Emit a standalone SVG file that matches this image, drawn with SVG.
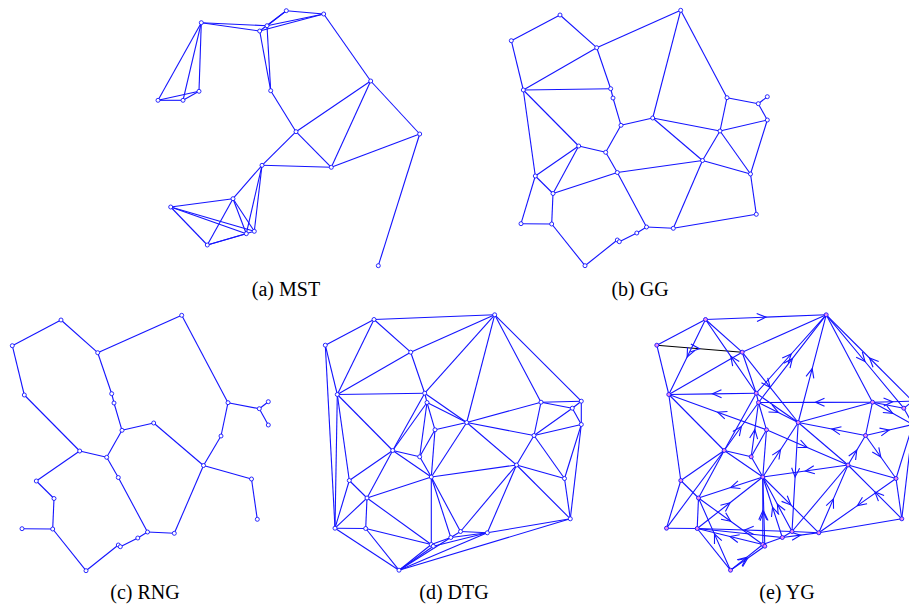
<svg xmlns="http://www.w3.org/2000/svg" width="909" height="608" viewBox="0 0 909 608">
<style>
.e line,.e path{stroke:#1414ff;stroke-width:1.1;fill:none}
.e path.ar{marker-mid:url(#chev)}
.e .k{stroke:#000}
.n circle{fill:#fff;stroke:#1414ff;stroke-width:0.9}
.ny circle{fill:#f08cf0;stroke:#1414ff;stroke-width:0.9}
text{font-family:"Liberation Serif","Times New Roman",serif;font-size:20px;text-anchor:middle;fill:#000}
</style>
<defs>
<marker id="chev" viewBox="-12 -6 14 12" markerWidth="14" markerHeight="12" refX="0" refY="0" orient="auto" markerUnits="userSpaceOnUse"><path d="M-9,-4 L0,0 L-9,4" fill="none" stroke="#1414ff" stroke-width="1.1"/></marker>
</defs>
<rect width="909" height="608" fill="#fff"/>

<!-- (a) MST -->
<g id="panel-a">
<g id="a-edges" class="e">
<line x1="201.3" y1="22.7" x2="158" y2="100.3"/>
<line x1="201.3" y1="22.7" x2="183" y2="100.3"/>
<line x1="201.3" y1="22.7" x2="199" y2="91.3"/>
<line x1="158" y1="100.3" x2="183" y2="100.3"/>
<line x1="158" y1="100.3" x2="199" y2="91.3"/>
<line x1="183" y1="100.3" x2="199" y2="91.3"/>
<line x1="201.3" y1="22.7" x2="259.7" y2="31"/>
<line x1="201.3" y1="22.7" x2="267" y2="25.7"/>
<line x1="286.3" y1="10.7" x2="267" y2="25.7"/>
<line x1="286.3" y1="10.7" x2="259.7" y2="31"/>
<line x1="286.3" y1="10.7" x2="323.7" y2="14"/>
<line x1="323.7" y1="14" x2="267" y2="25.7"/>
<line x1="323.7" y1="14" x2="259.7" y2="31"/>
<line x1="267" y1="25.7" x2="270.7" y2="90.7"/>
<line x1="259.7" y1="31" x2="270.7" y2="90.7"/>
<line x1="270.7" y1="90.7" x2="296" y2="131.7"/>
<line x1="323.7" y1="14" x2="370.7" y2="81"/>
<line x1="370.7" y1="81" x2="296" y2="131.7"/>
<line x1="370.7" y1="81" x2="331.3" y2="167.3"/>
<line x1="370.7" y1="81" x2="419.7" y2="134"/>
<line x1="296" y1="131.7" x2="331.3" y2="167.3"/>
<line x1="296" y1="131.7" x2="262" y2="165.3"/>
<line x1="262" y1="165.3" x2="331.3" y2="167.3"/>
<line x1="331.3" y1="167.3" x2="419.7" y2="134"/>
<line x1="419.7" y1="134" x2="378.3" y2="265.7"/>
<line x1="262" y1="165.3" x2="233" y2="198.7"/>
<line x1="262" y1="165.3" x2="246.3" y2="233.7"/>
<line x1="262" y1="165.3" x2="254.3" y2="231.3"/>
<line x1="233" y1="198.7" x2="170.7" y2="207"/>
<line x1="233" y1="198.7" x2="207.3" y2="245"/>
<line x1="233" y1="198.7" x2="246.3" y2="233.7"/>
<line x1="233" y1="198.7" x2="254.3" y2="231.3"/>
<line x1="170.7" y1="207" x2="207.3" y2="245"/>
<line x1="170.7" y1="207" x2="246.3" y2="233.7"/>
<line x1="170.7" y1="207" x2="254.3" y2="231.3"/>
<line x1="207.3" y1="245" x2="246.3" y2="233.7"/>
<line x1="207.3" y1="245" x2="254.3" y2="231.3"/>
</g>
<g class="n">
<g id="a1"><circle cx="201.3" cy="22.7" r="2"/></g>
<g id="a2"><circle cx="286.3" cy="10.7" r="2"/></g>
<g id="a3"><circle cx="323.7" cy="14" r="2"/></g>
<g id="a4"><circle cx="267" cy="25.7" r="2"/></g>
<g id="a5"><circle cx="259.7" cy="31" r="2"/></g>
<g id="a6"><circle cx="199" cy="91.3" r="2"/></g>
<g id="a7"><circle cx="183" cy="100.3" r="2"/></g>
<g id="a8"><circle cx="158" cy="100.3" r="2"/></g>
<g id="a9"><circle cx="270.7" cy="90.7" r="2"/></g>
<g id="a10"><circle cx="370.7" cy="81" r="2"/></g>
<g id="a11"><circle cx="296" cy="131.7" r="2"/></g>
<g id="a12"><circle cx="419.7" cy="134" r="2"/></g>
<g id="a13"><circle cx="331.3" cy="167.3" r="2"/></g>
<g id="a14"><circle cx="262" cy="165.3" r="2"/></g>
<g id="a15"><circle cx="233" cy="198.7" r="2"/></g>
<g id="a16"><circle cx="170.7" cy="207" r="2"/></g>
<g id="a17"><circle cx="207.3" cy="245" r="2"/></g>
<g id="a18"><circle cx="246.3" cy="233.7" r="2"/></g>
<g id="a19"><circle cx="254.3" cy="231.3" r="2"/></g>
<g id="a20"><circle cx="378.3" cy="265.7" r="2"/></g>
</g>
<text x="286" y="296">(a) MST</text>
</g>

<!-- (b) GG -->
<g id="panel-b">
<g id="b-edges" class="e">
<line x1="560" y1="15" x2="511.3" y2="40.7"/>
<line x1="560" y1="15" x2="596.7" y2="47.7"/>
<line x1="596.7" y1="47.7" x2="680.7" y2="10.3"/>
<line x1="511.3" y1="40.7" x2="523.3" y2="90"/>
<line x1="523.3" y1="90" x2="596.7" y2="47.7"/>
<line x1="523.3" y1="90" x2="610.7" y2="88.7"/>
<line x1="596.7" y1="47.7" x2="610.7" y2="88.7"/>
<line x1="610.7" y1="88.7" x2="613" y2="98"/>
<line x1="613" y1="98" x2="621" y2="125.3"/>
<line x1="621" y1="125.3" x2="652.7" y2="118"/>
<line x1="652.7" y1="118" x2="680.7" y2="10.3"/>
<line x1="680.7" y1="10.3" x2="727" y2="97.7"/>
<line x1="727" y1="97.7" x2="758.3" y2="103.7"/>
<line x1="758.3" y1="103.7" x2="767.3" y2="96.7"/>
<line x1="758.3" y1="103.7" x2="767.3" y2="120"/>
<line x1="727" y1="97.7" x2="720" y2="131"/>
<line x1="652.7" y1="118" x2="720" y2="131"/>
<line x1="720" y1="131" x2="767.3" y2="120"/>
<line x1="767.3" y1="120" x2="750.5" y2="174"/>
<line x1="750.5" y1="174" x2="756.3" y2="214.3"/>
<line x1="720" y1="131" x2="702.5" y2="160.5"/>
<line x1="720" y1="131" x2="750.5" y2="174"/>
<line x1="702.5" y1="160.5" x2="750.5" y2="174"/>
<line x1="652.7" y1="118" x2="702.5" y2="160.5"/>
<line x1="621" y1="125.3" x2="605.7" y2="152.3"/>
<line x1="578.7" y1="146" x2="605.7" y2="152.3"/>
<line x1="578.7" y1="146" x2="535.3" y2="176"/>
<line x1="578.7" y1="146" x2="553" y2="193.5"/>
<line x1="605.7" y1="152.3" x2="617.3" y2="172.5"/>
<line x1="535.3" y1="176" x2="553" y2="193.5"/>
<line x1="553" y1="193.5" x2="617.3" y2="172.5"/>
<line x1="617.3" y1="172.5" x2="702.5" y2="160.5"/>
<line x1="617.3" y1="172.5" x2="646.5" y2="227"/>
<line x1="702.5" y1="160.5" x2="673.3" y2="228.3"/>
<line x1="646.5" y1="227" x2="673.3" y2="228.3"/>
<line x1="673.3" y1="228.3" x2="756.3" y2="214.3"/>
<line x1="523.3" y1="90" x2="578.7" y2="146"/>
<line x1="523.3" y1="90" x2="535.3" y2="176"/>
<line x1="535.3" y1="176" x2="521" y2="223.7"/>
<line x1="521" y1="223.7" x2="551.7" y2="224"/>
<line x1="551.7" y1="224" x2="553" y2="193.5"/>
<line x1="551.7" y1="224" x2="585" y2="265.7"/>
<line x1="585" y1="265.7" x2="617.3" y2="240"/>
<line x1="617.3" y1="240" x2="619.3" y2="241.7"/>
<line x1="619.3" y1="241.7" x2="636.8" y2="233"/>
<line x1="636.8" y1="233" x2="646.5" y2="227"/>
</g>
<g class="n">
<g id="b1"><circle cx="560" cy="15" r="2"/></g>
<g id="b2"><circle cx="511.3" cy="40.7" r="2"/></g>
<g id="b3"><circle cx="596.7" cy="47.7" r="2"/></g>
<g id="b4"><circle cx="680.7" cy="10.3" r="2"/></g>
<g id="b5"><circle cx="523.3" cy="90" r="2"/></g>
<g id="b6"><circle cx="610.7" cy="88.7" r="2"/></g>
<g id="b7"><circle cx="613" cy="98" r="2"/></g>
<g id="b8"><circle cx="621" cy="125.3" r="2"/></g>
<g id="b9"><circle cx="652.7" cy="118" r="2"/></g>
<g id="b10"><circle cx="727" cy="97.7" r="2"/></g>
<g id="b11"><circle cx="758.3" cy="103.7" r="2"/></g>
<g id="b12"><circle cx="767.3" cy="96.7" r="2"/></g>
<g id="b13"><circle cx="767.3" cy="120" r="2"/></g>
<g id="b14"><circle cx="720" cy="131" r="2"/></g>
<g id="b15"><circle cx="578.7" cy="146" r="2"/></g>
<g id="b16"><circle cx="605.7" cy="152.3" r="2"/></g>
<g id="b17"><circle cx="535.3" cy="176" r="2"/></g>
<g id="b18"><circle cx="553" cy="193.5" r="2"/></g>
<g id="b19"><circle cx="617.3" cy="172.5" r="2"/></g>
<g id="b20"><circle cx="702.5" cy="160.5" r="2"/></g>
<g id="b21"><circle cx="750.5" cy="174" r="2"/></g>
<g id="b22"><circle cx="521" cy="223.7" r="2"/></g>
<g id="b23"><circle cx="551.7" cy="224" r="2"/></g>
<g id="b24"><circle cx="646.5" cy="227" r="2"/></g>
<g id="b25"><circle cx="673.3" cy="228.3" r="2"/></g>
<g id="b26"><circle cx="756.3" cy="214.3" r="2"/></g>
<g id="b27"><circle cx="636.8" cy="233" r="2"/></g>
<g id="b28"><circle cx="617.3" cy="240" r="2"/></g>
<g id="b29"><circle cx="619.3" cy="241.7" r="2"/></g>
<g id="b30"><circle cx="585" cy="265.7" r="2"/></g>
</g>
<text x="640" y="296">(b) GG</text>
</g>

<!-- (c) RNG -->
<g id="panel-c">
<g transform="translate(-499,305)">
<g id="c-edges" class="e">
<line x1="560" y1="15" x2="511.3" y2="40.7"/>
<line x1="560" y1="15" x2="596.7" y2="47.7"/>
<line x1="596.7" y1="47.7" x2="680.7" y2="10.3"/>
<line x1="511.3" y1="40.7" x2="523.3" y2="90"/>
<line x1="680.7" y1="10.3" x2="727" y2="97.7"/>
<line x1="727" y1="97.7" x2="758.3" y2="103.7"/>
<line x1="758.3" y1="103.7" x2="767.3" y2="96.7"/>
<line x1="758.3" y1="103.7" x2="767.3" y2="120"/>
<line x1="727" y1="97.7" x2="720" y2="131"/>
<line x1="596.7" y1="47.7" x2="610.7" y2="88.7"/>
<line x1="610.7" y1="88.7" x2="613" y2="98"/>
<line x1="613" y1="98" x2="621" y2="125.3"/>
<line x1="621" y1="125.3" x2="652.7" y2="118"/>
<line x1="652.7" y1="118" x2="702.5" y2="160.5"/>
<line x1="621" y1="125.3" x2="605.7" y2="152.3"/>
<line x1="523.3" y1="90" x2="578.7" y2="146"/>
<line x1="578.7" y1="146" x2="605.7" y2="152.3"/>
<line x1="578.7" y1="146" x2="535.3" y2="176"/>
<line x1="535.3" y1="176" x2="553" y2="193.5"/>
<line x1="553" y1="193.5" x2="551.7" y2="224"/>
<line x1="551.7" y1="224" x2="521" y2="223.7"/>
<line x1="551.7" y1="224" x2="585" y2="265.7"/>
<line x1="585" y1="265.7" x2="617.3" y2="240"/>
<line x1="617.3" y1="240" x2="619.3" y2="241.7"/>
<line x1="619.3" y1="241.7" x2="636.8" y2="233"/>
<line x1="636.8" y1="233" x2="646.5" y2="227"/>
<line x1="605.7" y1="152.3" x2="617.3" y2="172.5"/>
<line x1="617.3" y1="172.5" x2="646.5" y2="227"/>
<line x1="646.5" y1="227" x2="673.3" y2="228.3"/>
<line x1="673.3" y1="228.3" x2="702.5" y2="160.5"/>
<line x1="720" y1="131" x2="702.5" y2="160.5"/>
<line x1="702.5" y1="160.5" x2="750.5" y2="174"/>
<line x1="750.5" y1="174" x2="756.3" y2="214.3"/>
</g>
<g class="n">
<g id="c1"><circle cx="560" cy="15" r="2"/></g>
<g id="c2"><circle cx="511.3" cy="40.7" r="2"/></g>
<g id="c3"><circle cx="596.7" cy="47.7" r="2"/></g>
<g id="c4"><circle cx="680.7" cy="10.3" r="2"/></g>
<g id="c5"><circle cx="523.3" cy="90" r="2"/></g>
<g id="c6"><circle cx="610.7" cy="88.7" r="2"/></g>
<g id="c7"><circle cx="613" cy="98" r="2"/></g>
<g id="c8"><circle cx="621" cy="125.3" r="2"/></g>
<g id="c9"><circle cx="652.7" cy="118" r="2"/></g>
<g id="c10"><circle cx="727" cy="97.7" r="2"/></g>
<g id="c11"><circle cx="758.3" cy="103.7" r="2"/></g>
<g id="c12"><circle cx="767.3" cy="96.7" r="2"/></g>
<g id="c13"><circle cx="767.3" cy="120" r="2"/></g>
<g id="c14"><circle cx="720" cy="131" r="2"/></g>
<g id="c15"><circle cx="578.7" cy="146" r="2"/></g>
<g id="c16"><circle cx="605.7" cy="152.3" r="2"/></g>
<g id="c17"><circle cx="535.3" cy="176" r="2"/></g>
<g id="c18"><circle cx="553" cy="193.5" r="2"/></g>
<g id="c19"><circle cx="617.3" cy="172.5" r="2"/></g>
<g id="c20"><circle cx="702.5" cy="160.5" r="2"/></g>
<g id="c21"><circle cx="750.5" cy="174" r="2"/></g>
<g id="c22"><circle cx="521" cy="223.7" r="2"/></g>
<g id="c23"><circle cx="551.7" cy="224" r="2"/></g>
<g id="c24"><circle cx="646.5" cy="227" r="2"/></g>
<g id="c25"><circle cx="673.3" cy="228.3" r="2"/></g>
<g id="c26"><circle cx="756.3" cy="214.3" r="2"/></g>
<g id="c27"><circle cx="636.8" cy="233" r="2"/></g>
<g id="c28"><circle cx="617.3" cy="240" r="2"/></g>
<g id="c29"><circle cx="619.3" cy="241.7" r="2"/></g>
<g id="c30"><circle cx="585" cy="265.7" r="2"/></g>
</g>
</g>
<text x="145" y="599">(c) RNG</text>
</g>

<!-- (d) DTG -->
<g id="panel-d">
<g transform="translate(-186,304.5)">
<g id="d-edges" class="e">
<line x1="560" y1="15" x2="511.3" y2="40.7"/>
<line x1="560" y1="15" x2="680.7" y2="10.3"/>
<line x1="560" y1="15" x2="596.7" y2="47.7"/>
<line x1="560" y1="15" x2="523.3" y2="90"/>
<line x1="596.7" y1="47.7" x2="680.7" y2="10.3"/>
<line x1="596.7" y1="47.7" x2="523.3" y2="90"/>
<line x1="596.7" y1="47.7" x2="610.7" y2="88.7"/>
<line x1="523.3" y1="90" x2="610.7" y2="88.7"/>
<line x1="680.7" y1="10.3" x2="610.7" y2="88.7"/>
<line x1="680.7" y1="10.3" x2="652.7" y2="118"/>
<line x1="680.7" y1="10.3" x2="727" y2="97.7"/>
<line x1="680.7" y1="10.3" x2="767.3" y2="96.7"/>
<line x1="511.3" y1="40.7" x2="523.3" y2="90"/>
<line x1="511.3" y1="40.7" x2="521" y2="223.7"/>
<line x1="523.3" y1="90" x2="521" y2="223.7"/>
<line x1="523.3" y1="90" x2="535.3" y2="176"/>
<line x1="523.3" y1="90" x2="578.7" y2="146"/>
<line x1="610.7" y1="88.7" x2="613" y2="98"/>
<line x1="610.7" y1="88.7" x2="652.7" y2="118"/>
<line x1="613" y1="98" x2="652.7" y2="118"/>
<line x1="613" y1="98" x2="621" y2="125.3"/>
<line x1="610.7" y1="88.7" x2="578.7" y2="146"/>
<line x1="613" y1="98" x2="578.7" y2="146"/>
<line x1="613" y1="98" x2="605.7" y2="152.3"/>
<line x1="621" y1="125.3" x2="605.7" y2="152.3"/>
<line x1="621" y1="125.3" x2="617.3" y2="172.5"/>
<line x1="621" y1="125.3" x2="652.7" y2="118"/>
<line x1="652.7" y1="118" x2="727" y2="97.7"/>
<line x1="652.7" y1="118" x2="720" y2="131"/>
<line x1="727" y1="97.7" x2="767.3" y2="96.7"/>
<line x1="727" y1="97.7" x2="758.3" y2="103.7"/>
<line x1="727" y1="97.7" x2="720" y2="131"/>
<line x1="758.3" y1="103.7" x2="767.3" y2="96.7"/>
<line x1="758.3" y1="103.7" x2="767.3" y2="120"/>
<line x1="758.3" y1="103.7" x2="720" y2="131"/>
<line x1="767.3" y1="96.7" x2="767.3" y2="120"/>
<line x1="767.3" y1="120" x2="720" y2="131"/>
<line x1="767.3" y1="120" x2="750.5" y2="174"/>
<line x1="767.3" y1="120" x2="756.3" y2="214.3"/>
<line x1="652.7" y1="118" x2="617.3" y2="172.5"/>
<line x1="652.7" y1="118" x2="702.5" y2="160.5"/>
<line x1="720" y1="131" x2="702.5" y2="160.5"/>
<line x1="720" y1="131" x2="750.5" y2="174"/>
<line x1="702.5" y1="160.5" x2="750.5" y2="174"/>
<line x1="702.5" y1="160.5" x2="756.3" y2="214.3"/>
<line x1="750.5" y1="174" x2="756.3" y2="214.3"/>
<line x1="617.3" y1="172.5" x2="702.5" y2="160.5"/>
<line x1="702.5" y1="160.5" x2="646.5" y2="227"/>
<line x1="702.5" y1="160.5" x2="673.3" y2="228.3"/>
<line x1="673.3" y1="228.3" x2="756.3" y2="214.3"/>
<line x1="617.3" y1="172.5" x2="646.5" y2="227"/>
<line x1="617.3" y1="172.5" x2="636.8" y2="233"/>
<line x1="617.3" y1="172.5" x2="617.3" y2="240"/>
<line x1="578.7" y1="146" x2="617.3" y2="172.5"/>
<line x1="605.7" y1="152.3" x2="617.3" y2="172.5"/>
<line x1="578.7" y1="146" x2="605.7" y2="152.3"/>
<line x1="578.7" y1="146" x2="535.3" y2="176"/>
<line x1="578.7" y1="146" x2="553" y2="193.5"/>
<line x1="535.3" y1="176" x2="553" y2="193.5"/>
<line x1="553" y1="193.5" x2="617.3" y2="172.5"/>
<line x1="553" y1="193.5" x2="551.7" y2="224"/>
<line x1="535.3" y1="176" x2="521" y2="223.7"/>
<line x1="553" y1="193.5" x2="521" y2="223.7"/>
<line x1="521" y1="223.7" x2="551.7" y2="224"/>
<line x1="553" y1="193.5" x2="617.3" y2="240"/>
<line x1="551.7" y1="224" x2="617.3" y2="240"/>
<line x1="521" y1="223.7" x2="585" y2="265.7"/>
<line x1="551.7" y1="224" x2="585" y2="265.7"/>
<line x1="585" y1="265.7" x2="617.3" y2="240"/>
<line x1="585" y1="265.7" x2="619.3" y2="241.7"/>
<line x1="585" y1="265.7" x2="636.8" y2="233"/>
<line x1="585" y1="265.7" x2="673.3" y2="228.3"/>
<line x1="585" y1="265.7" x2="756.3" y2="214.3"/>
<line x1="617.3" y1="240" x2="636.8" y2="233"/>
<line x1="619.3" y1="241.7" x2="673.3" y2="228.3"/>
<line x1="636.8" y1="233" x2="646.5" y2="227"/>
<line x1="636.8" y1="233" x2="673.3" y2="228.3"/>
<line x1="646.5" y1="227" x2="673.3" y2="228.3"/>
<line x1="617.3" y1="240" x2="619.3" y2="241.7"/>
</g>
<g class="n">
<g id="d1"><circle cx="560" cy="15" r="2"/></g>
<g id="d2"><circle cx="511.3" cy="40.7" r="2"/></g>
<g id="d3"><circle cx="596.7" cy="47.7" r="2"/></g>
<g id="d4"><circle cx="680.7" cy="10.3" r="2"/></g>
<g id="d5"><circle cx="523.3" cy="90" r="2"/></g>
<g id="d6"><circle cx="610.7" cy="88.7" r="2"/></g>
<g id="d7"><circle cx="613" cy="98" r="2"/></g>
<g id="d8"><circle cx="621" cy="125.3" r="2"/></g>
<g id="d9"><circle cx="652.7" cy="118" r="2"/></g>
<g id="d10"><circle cx="727" cy="97.7" r="2"/></g>
<g id="d11"><circle cx="758.3" cy="103.7" r="2"/></g>
<g id="d12"><circle cx="767.3" cy="96.7" r="2"/></g>
<g id="d13"><circle cx="767.3" cy="120" r="2"/></g>
<g id="d14"><circle cx="720" cy="131" r="2"/></g>
<g id="d15"><circle cx="578.7" cy="146" r="2"/></g>
<g id="d16"><circle cx="605.7" cy="152.3" r="2"/></g>
<g id="d17"><circle cx="535.3" cy="176" r="2"/></g>
<g id="d18"><circle cx="553" cy="193.5" r="2"/></g>
<g id="d19"><circle cx="617.3" cy="172.5" r="2"/></g>
<g id="d20"><circle cx="702.5" cy="160.5" r="2"/></g>
<g id="d21"><circle cx="750.5" cy="174" r="2"/></g>
<g id="d22"><circle cx="521" cy="223.7" r="2"/></g>
<g id="d23"><circle cx="551.7" cy="224" r="2"/></g>
<g id="d24"><circle cx="646.5" cy="227" r="2"/></g>
<g id="d25"><circle cx="673.3" cy="228.3" r="2"/></g>
<g id="d26"><circle cx="756.3" cy="214.3" r="2"/></g>
<g id="d27"><circle cx="636.8" cy="233" r="2"/></g>
<g id="d28"><circle cx="617.3" cy="240" r="2"/></g>
<g id="d29"><circle cx="619.3" cy="241.7" r="2"/></g>
<g id="d30"><circle cx="585" cy="265.7" r="2"/></g>
</g>
</g>
<text x="454" y="599">(d) DTG</text>
</g>

<!-- (e) YG -->
<g id="panel-e">
<g transform="translate(145.5,304.5)">
<g id="e-edges" class="e">
<line x1="560" y1="15" x2="511.3" y2="40.7"/>
<line x1="560" y1="15" x2="596.7" y2="47.7"/>
<line x1="596.7" y1="47.7" x2="680.7" y2="10.3"/>
<line x1="596.7" y1="47.7" x2="523.3" y2="90"/>
<line x1="511.3" y1="40.7" x2="523.3" y2="90"/>
<line x1="596.7" y1="47.7" x2="610.7" y2="88.7"/>
<line x1="610.7" y1="88.7" x2="613" y2="98"/>
<line x1="680.7" y1="10.3" x2="727" y2="97.7"/>
<line x1="652.7" y1="118" x2="727" y2="97.7"/>
<line x1="727" y1="97.7" x2="720" y2="131"/>
<line x1="727" y1="97.7" x2="758.3" y2="103.7"/>
<line x1="758.3" y1="103.7" x2="767.3" y2="96.7"/>
<line x1="758.3" y1="103.7" x2="767.3" y2="120"/>
<line x1="613" y1="98" x2="621" y2="125.3"/>
<line x1="610.7" y1="88.7" x2="652.7" y2="118"/>
<line x1="610.7" y1="88.7" x2="578.7" y2="146"/>
<line x1="523.3" y1="90" x2="578.7" y2="146"/>
<line x1="523.3" y1="90" x2="535.3" y2="176"/>
<line x1="621" y1="125.3" x2="605.7" y2="152.3"/>
<line x1="578.7" y1="146" x2="605.7" y2="152.3"/>
<line x1="605.7" y1="152.3" x2="617.3" y2="172.5"/>
<line x1="578.7" y1="146" x2="617.3" y2="172.5"/>
<line x1="621" y1="125.3" x2="617.3" y2="172.5"/>
<line x1="652.7" y1="118" x2="702.5" y2="160.5"/>
<line x1="702.5" y1="160.5" x2="750.5" y2="174"/>
<line x1="702.5" y1="160.5" x2="646.5" y2="227"/>
<line x1="750.5" y1="174" x2="756.3" y2="214.3"/>
<line x1="673.3" y1="228.3" x2="756.3" y2="214.3"/>
<line x1="636.8" y1="233" x2="646.5" y2="227"/>
<line x1="636.8" y1="233" x2="617.3" y2="240"/>
<line x1="617.3" y1="240" x2="619.3" y2="241.7"/>
<line x1="521" y1="223.7" x2="551.7" y2="224"/>
<line x1="521" y1="223.7" x2="535.3" y2="176"/>
<line x1="535.3" y1="176" x2="553" y2="193.5"/>
<line x1="553" y1="193.5" x2="551.7" y2="224"/>
<line x1="535.3" y1="176" x2="578.7" y2="146"/>
<line x1="553" y1="193.5" x2="578.7" y2="146"/>
<line x1="521" y1="223.7" x2="578.7" y2="146"/>
<line x1="551.7" y1="224" x2="636.8" y2="233"/>
<line x1="551.7" y1="224" x2="585" y2="265.7"/>
<line x1="750.5" y1="174" x2="767.3" y2="120"/>
<line x1="756.3" y1="214.3" x2="767.3" y2="120"/>
<line x1="646.5" y1="227" x2="673.3" y2="228.3"/>
<line class="k" x1="511.3" y1="40.7" x2="596.7" y2="47.7"/>
<path class="ar" d="M560,15 L620.35,12.65 L680.7,10.3"/>
<path class="ar" d="M511.3,40.7 L554,44.2 L596.7,47.7" stroke-opacity="0"/>
<path class="ar" d="M560,15 L541.65,52.5 L523.3,90"/>
<path class="ar" d="M610.7,88.7 L585.35,51.85 L560,15"/>
<path class="ar" d="M596.7,47.7 L624.7,82.85 L652.7,118"/>
<path class="ar" d="M610.7,88.7 L645.7,49.5 L680.7,10.3"/>
<path class="ar" d="M613,98 L646.85,54.15 L680.7,10.3"/>
<path class="ar" d="M652.7,118 L666.7,64.15 L680.7,10.3"/>
<path class="ar" d="M680.7,10.3 L719.5,57 L758.3,103.7"/>
<path class="ar" d="M767.3,96.7 L724,53.5 L680.7,10.3"/>
<path class="ar" d="M610.7,88.7 L567,89.35 L523.3,90"/>
<path class="ar" d="M621,125.3 L572.15,107.65 L523.3,90"/>
<path class="ar" d="M727,97.7 L670,97.85 L613,98"/>
<path class="ar" d="M727,97.7 L747.15,97.2 L767.3,96.7"/>
<path class="ar" d="M720,131 L686.35,124.5 L652.7,118"/>
<path class="ar" d="M727,97.7 L747.15,108.85 L767.3,120"/>
<path class="ar" d="M720,131 L743.65,125.5 L767.3,120"/>
<path class="ar" d="M605.7,152.3 L609.35,125.15 L613,98"/>
<path class="ar" d="M578.7,146 L595.85,122 L613,98"/>
<path class="ar" d="M652.7,118 L649.6,172.5 L646.5,227"/>
<path class="ar" d="M621,125.3 L661.75,142.9 L702.5,160.5"/>
<path class="ar" d="M702.5,160.5 L711.25,145.75 L720,131"/>
<path class="ar" d="M720,131 L735.25,152.5 L750.5,174"/>
<path class="ar" d="M756.3,214.3 L729.4,187.4 L702.5,160.5"/>
<path class="ar" d="M750.5,174 L711.9,201.15 L673.3,228.3"/>
<path class="ar" d="M673.3,228.3 L687.9,194.4 L702.5,160.5"/>
<path class="ar" d="M702.5,160.5 L659.9,166.5 L617.3,172.5"/>
<path class="ar" d="M617.3,172.5 L635,145.25 L652.7,118"/>
<path class="ar" d="M617.3,172.5 L585.15,183 L553,193.5"/>
<path class="ar" d="M551.7,224 L584.5,198.25 L617.3,172.5"/>
<path class="ar" d="M553,193.5 L585.15,216.75 L617.3,240"/>
<path class="ar" d="M617.3,240 L617.3,206.25 L617.3,172.5"/>
<path class="ar" d="M619.3,241.7 L618.3,207.1 L617.3,172.5"/>
<path class="ar" d="M636.8,233 L627.05,202.75 L617.3,172.5"/>
<path class="ar" d="M646.5,227 L631.9,199.75 L617.3,172.5"/>
<path class="ar" d="M617.3,172.5 L645.3,200.4 L673.3,228.3"/>
<path class="ar" d="M646.5,227 L599.1,225.5 L551.7,224"/>
<path class="ar" d="M617.3,240 L584.5,232 L551.7,224"/>
<path class="ar" d="M585,265.7 L569,229.6 L553,193.5"/>
<path class="ar" d="M585,265.7 L601.15,252.85 L617.3,240"/>
<path class="ar" d="M585,265.7 L602.15,253.7 L619.3,241.7"/>
<path class="ar" d="M613,98 L632.85,108 L652.7,118"/>
<path class="ar" d="M636.8,233 L655.05,230.65 L673.3,228.3"/>
</g>
<g class="ny">
<g id="e1"><circle cx="560" cy="15" r="2"/></g>
<g id="e2"><circle cx="511.3" cy="40.7" r="2"/></g>
<g id="e3"><circle cx="596.7" cy="47.7" r="2"/></g>
<g id="e4"><circle cx="680.7" cy="10.3" r="2"/></g>
<g id="e5"><circle cx="523.3" cy="90" r="2"/></g>
<g id="e6"><circle cx="610.7" cy="88.7" r="2"/></g>
<g id="e7"><circle cx="613" cy="98" r="2"/></g>
<g id="e8"><circle cx="621" cy="125.3" r="2"/></g>
<g id="e9"><circle cx="652.7" cy="118" r="2"/></g>
<g id="e10"><circle cx="727" cy="97.7" r="2"/></g>
<g id="e11"><circle cx="758.3" cy="103.7" r="2"/></g>
<g id="e12"><circle cx="767.3" cy="96.7" r="2"/></g>
<g id="e13"><circle cx="767.3" cy="120" r="2"/></g>
<g id="e14"><circle cx="720" cy="131" r="2"/></g>
<g id="e15"><circle cx="578.7" cy="146" r="2"/></g>
<g id="e16"><circle cx="605.7" cy="152.3" r="2"/></g>
<g id="e17"><circle cx="535.3" cy="176" r="2"/></g>
<g id="e18"><circle cx="553" cy="193.5" r="2"/></g>
<g id="e19"><circle cx="617.3" cy="172.5" r="2"/></g>
<g id="e20"><circle cx="702.5" cy="160.5" r="2"/></g>
<g id="e21"><circle cx="750.5" cy="174" r="2"/></g>
<g id="e22"><circle cx="521" cy="223.7" r="2"/></g>
<g id="e23"><circle cx="551.7" cy="224" r="2"/></g>
<g id="e24"><circle cx="646.5" cy="227" r="2"/></g>
<g id="e25"><circle cx="673.3" cy="228.3" r="2"/></g>
<g id="e26"><circle cx="756.3" cy="214.3" r="2"/></g>
<g id="e27"><circle cx="636.8" cy="233" r="2"/></g>
<g id="e28"><circle cx="617.3" cy="240" r="2"/></g>
<g id="e29"><circle cx="619.3" cy="241.7" r="2"/></g>
<g id="e30"><circle cx="585" cy="265.7" r="2"/></g>
</g>
</g>
<text x="787" y="599">(e) YG</text>
</g>
</svg>
